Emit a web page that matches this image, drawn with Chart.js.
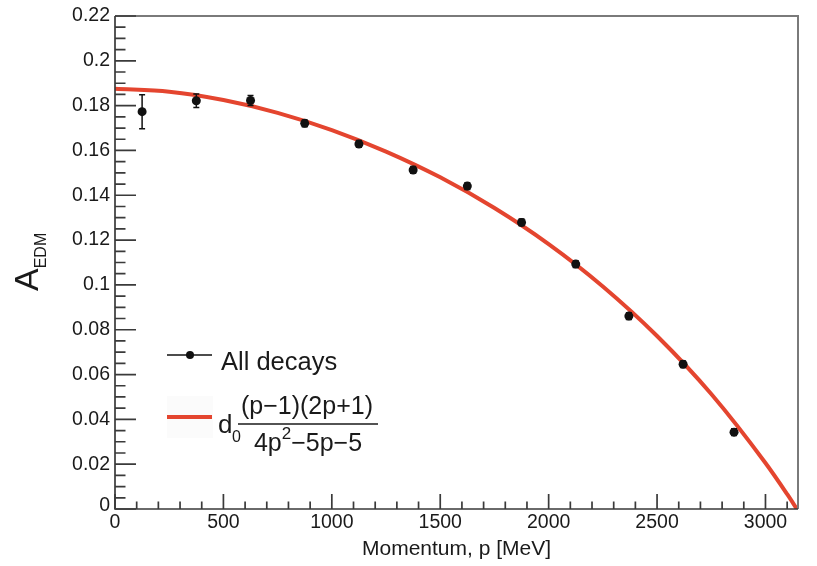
<!DOCTYPE html>
<html>
<head>
<meta charset="utf-8">
<script src="https://cdn.jsdelivr.net/npm/chart.js@4/dist/chart.umd.min.js"></script>
<style>
  html, body { margin: 0; padding: 0; background: #fff; }
  canvas { display: block; }
</style>
</head>
<body>
<canvas id="edmChart" width="817" height="566"></canvas>
<script>
// measured asymmetry per momentum bin
const momentum = [125, 375, 625, 875, 1125, 1375, 1625, 1875, 2125, 2370, 2620, 2855];
const asymmetry = [0.1773, 0.1822, 0.1823, 0.1721, 0.1629, 0.1513, 0.1441, 0.1279, 0.1093, 0.0861, 0.0646, 0.0343];
const asymmetryErr = [0.0076, 0.0030, 0.0022, 0.0015, 0.0015, 0.0015, 0.0015, 0.0015, 0.0015, 0.0015, 0.0015, 0.0015];

// fitted curve, sampled along momentum
const fitMomentum = [0, 250, 500, 750, 1000, 1250, 1500, 1750, 2000, 2250, 2500, 2750, 3000, 3100, 3145];
const fitAsymmetry = [0.1875, 0.1862, 0.1825, 0.1768, 0.1691, 0.1595, 0.1480, 0.1343, 0.1182, 0.0993, 0.0772, 0.0513, 0.0205, 0.0066, 0];

const xTicks = [0, 500, 1000, 1500, 2000, 2500, 3000];
const yTicks = [0, 0.02, 0.04, 0.06, 0.08, 0.1, 0.12, 0.14, 0.16, 0.18, 0.2, 0.22];

const X_MAX = 3150;
const Y_MAX = 0.22;
const FIT_RED = '#e4452f';
const INK = '#1a1a1a';
const FONT = '"Liberation Sans", Arial, sans-serif';

const toPoints = (xs, ys) => xs.map((x, i) => ({ x: x, y: ys[i] }));

// frame, inward ticks, labels, error bars and the legend (ROOT look)
const rootStyle = {
    id: 'rootStyle',
    afterDatasetsDraw(chart) {
        const ctx = chart.ctx;
        const xs = chart.scales.x;
        const ys = chart.scales.y;
        const a = chart.chartArea;

        ctx.save();

        // error bars
        ctx.strokeStyle = '#111';
        ctx.lineWidth = 1.5;
        momentum.forEach((m, i) => {
            const px = xs.getPixelForValue(m);
            const top = ys.getPixelForValue(asymmetry[i] + asymmetryErr[i]);
            const bot = ys.getPixelForValue(asymmetry[i] - asymmetryErr[i]);
            ctx.beginPath();
            ctx.moveTo(px, top); ctx.lineTo(px, bot);
            ctx.moveTo(px - 3, top); ctx.lineTo(px + 3, top);
            ctx.moveTo(px - 3, bot); ctx.lineTo(px + 3, bot);
            ctx.stroke();
        });

        // top and right frame
        ctx.strokeStyle = '#7a7a7a';
        ctx.lineWidth = 2;
        ctx.beginPath();
        ctx.moveTo(a.left, a.top); ctx.lineTo(a.right, a.top); ctx.lineTo(a.right, a.bottom);
        ctx.stroke();

        // axes
        ctx.strokeStyle = '#3a3a3a';
        ctx.lineWidth = 1.7;
        ctx.beginPath();
        ctx.moveTo(a.left, a.top); ctx.lineTo(a.left, a.bottom); ctx.lineTo(a.right, a.bottom);
        ctx.stroke();

        // x ticks: major every 500, minor every 100
        ctx.beginPath();
        for (let v = 0; v <= X_MAX; v += 100) {
            const px = xs.getPixelForValue(v);
            const len = v % 500 === 0 ? 15 : 7.5;
            ctx.moveTo(px, a.bottom); ctx.lineTo(px, a.bottom - len);
        }
        // y ticks: major every 0.02, minor every 0.005
        for (let k = 0; k <= 44; k++) {
            const py = ys.getPixelForValue(k * 0.005);
            const len = k % 4 === 0 ? 21 : 10.5;
            ctx.moveTo(a.left, py); ctx.lineTo(a.left + len, py);
        }
        ctx.stroke();

        // tick labels
        ctx.fillStyle = INK;
        ctx.font = '19.5px ' + FONT;
        ctx.textAlign = 'center';
        ctx.textBaseline = 'top';
        xTicks.forEach(v => ctx.fillText(String(v), xs.getPixelForValue(v), a.bottom + 4));
        ctx.textAlign = 'right';
        ctx.textBaseline = 'middle';
        yTicks.forEach(v => {
            const py = ys.getPixelForValue(v);
            ctx.fillText(String(+v.toFixed(2)), a.left - 5, v === 0 ? py - 3 : py);
        });

        // axis titles
        ctx.font = '21px ' + FONT;
        ctx.textAlign = 'center';
        ctx.textBaseline = 'middle';
        ctx.fillText('Momentum, p [MeV]', (a.left + a.right) / 2, 549);

        ctx.save();
        ctx.translate(38, 291);
        ctx.rotate(-Math.PI / 2);
        ctx.textAlign = 'left';
        ctx.textBaseline = 'alphabetic';
        ctx.font = '34px ' + FONT;
        ctx.fillText('A', 0, 0);
        const aw = ctx.measureText('A').width;
        ctx.font = '16px ' + FONT;
        ctx.fillText('EDM', aw, 8);
        ctx.restore();

        // legend
        ctx.fillStyle = '#fbfbfb';
        ctx.fillRect(167, 396, 46, 42);
        ctx.strokeStyle = '#111';
        ctx.lineWidth = 1.5;
        ctx.beginPath();
        ctx.moveTo(167, 355); ctx.lineTo(212, 355);
        ctx.stroke();
        ctx.fillStyle = '#111';
        ctx.beginPath();
        ctx.arc(190, 355, 4, 0, Math.PI * 2);
        ctx.fill();

        ctx.strokeStyle = FIT_RED;
        ctx.lineWidth = 4;
        ctx.beginPath();
        ctx.moveTo(167, 417); ctx.lineTo(212, 417);
        ctx.stroke();

        ctx.fillStyle = INK;
        ctx.textAlign = 'left';
        ctx.textBaseline = 'alphabetic';
        ctx.font = '25.5px ' + FONT;
        ctx.fillText('All decays', 221, 370);

        ctx.font = '26px ' + FONT;
        ctx.fillText('d', 218, 433);
        ctx.font = '16px ' + FONT;
        ctx.fillText('0', 232, 442);

        // fraction
        ctx.font = '25px ' + FONT;
        ctx.textAlign = 'center';
        ctx.fillText('(p\u22121)(2p+1)', 307, 414);
        ctx.strokeStyle = INK;
        ctx.lineWidth = 1.6;
        ctx.beginPath();
        ctx.moveTo(238, 424); ctx.lineTo(378, 424);
        ctx.stroke();

        ctx.textAlign = 'left';
        const d1 = '4p', d2 = '2', d3 = '\u22125p\u22125';
        ctx.font = '25px ' + FONT;
        const w1 = ctx.measureText(d1).width;
        const w3 = ctx.measureText(d3).width;
        ctx.font = '17px ' + FONT;
        const w2 = ctx.measureText(d2).width;
        const dx = 308 - (w1 + w2 + w3) / 2;
        ctx.font = '25px ' + FONT;
        ctx.fillText(d1, dx, 451);
        ctx.font = '17px ' + FONT;
        ctx.fillText(d2, dx + w1, 439);
        ctx.font = '25px ' + FONT;
        ctx.fillText(d3, dx + w1 + w2, 451);

        ctx.restore();
    }
};

new Chart(document.getElementById('edmChart').getContext('2d'), {
    type: 'scatter',
    data: {
        datasets: [
            {
                label: 'All decays',
                data: toPoints(momentum, asymmetry),
                backgroundColor: '#111',
                borderWidth: 0,
                pointRadius: 4.5,
                showLine: false,
                order: 0
            },
            {
                label: 'fit',
                type: 'line',
                data: toPoints(fitMomentum, fitAsymmetry),
                borderColor: FIT_RED,
                borderWidth: 4,
                pointRadius: 0,
                fill: false,
                cubicInterpolationMode: 'monotone',
                order: 1
            }
        ]
    },
    options: {
        responsive: false,
        animation: false,
        devicePixelRatio: 1,
        layout: { padding: { left: 115, right: 19, top: 16, bottom: 57 } },
        plugins: { legend: { display: false }, tooltip: { enabled: false } },
        scales: {
            x: { type: 'linear', min: 0, max: X_MAX, display: false },
            y: { type: 'linear', min: 0, max: Y_MAX, display: false }
        }
    },
    plugins: [rootStyle]
});
</script>
</body>
</html>
